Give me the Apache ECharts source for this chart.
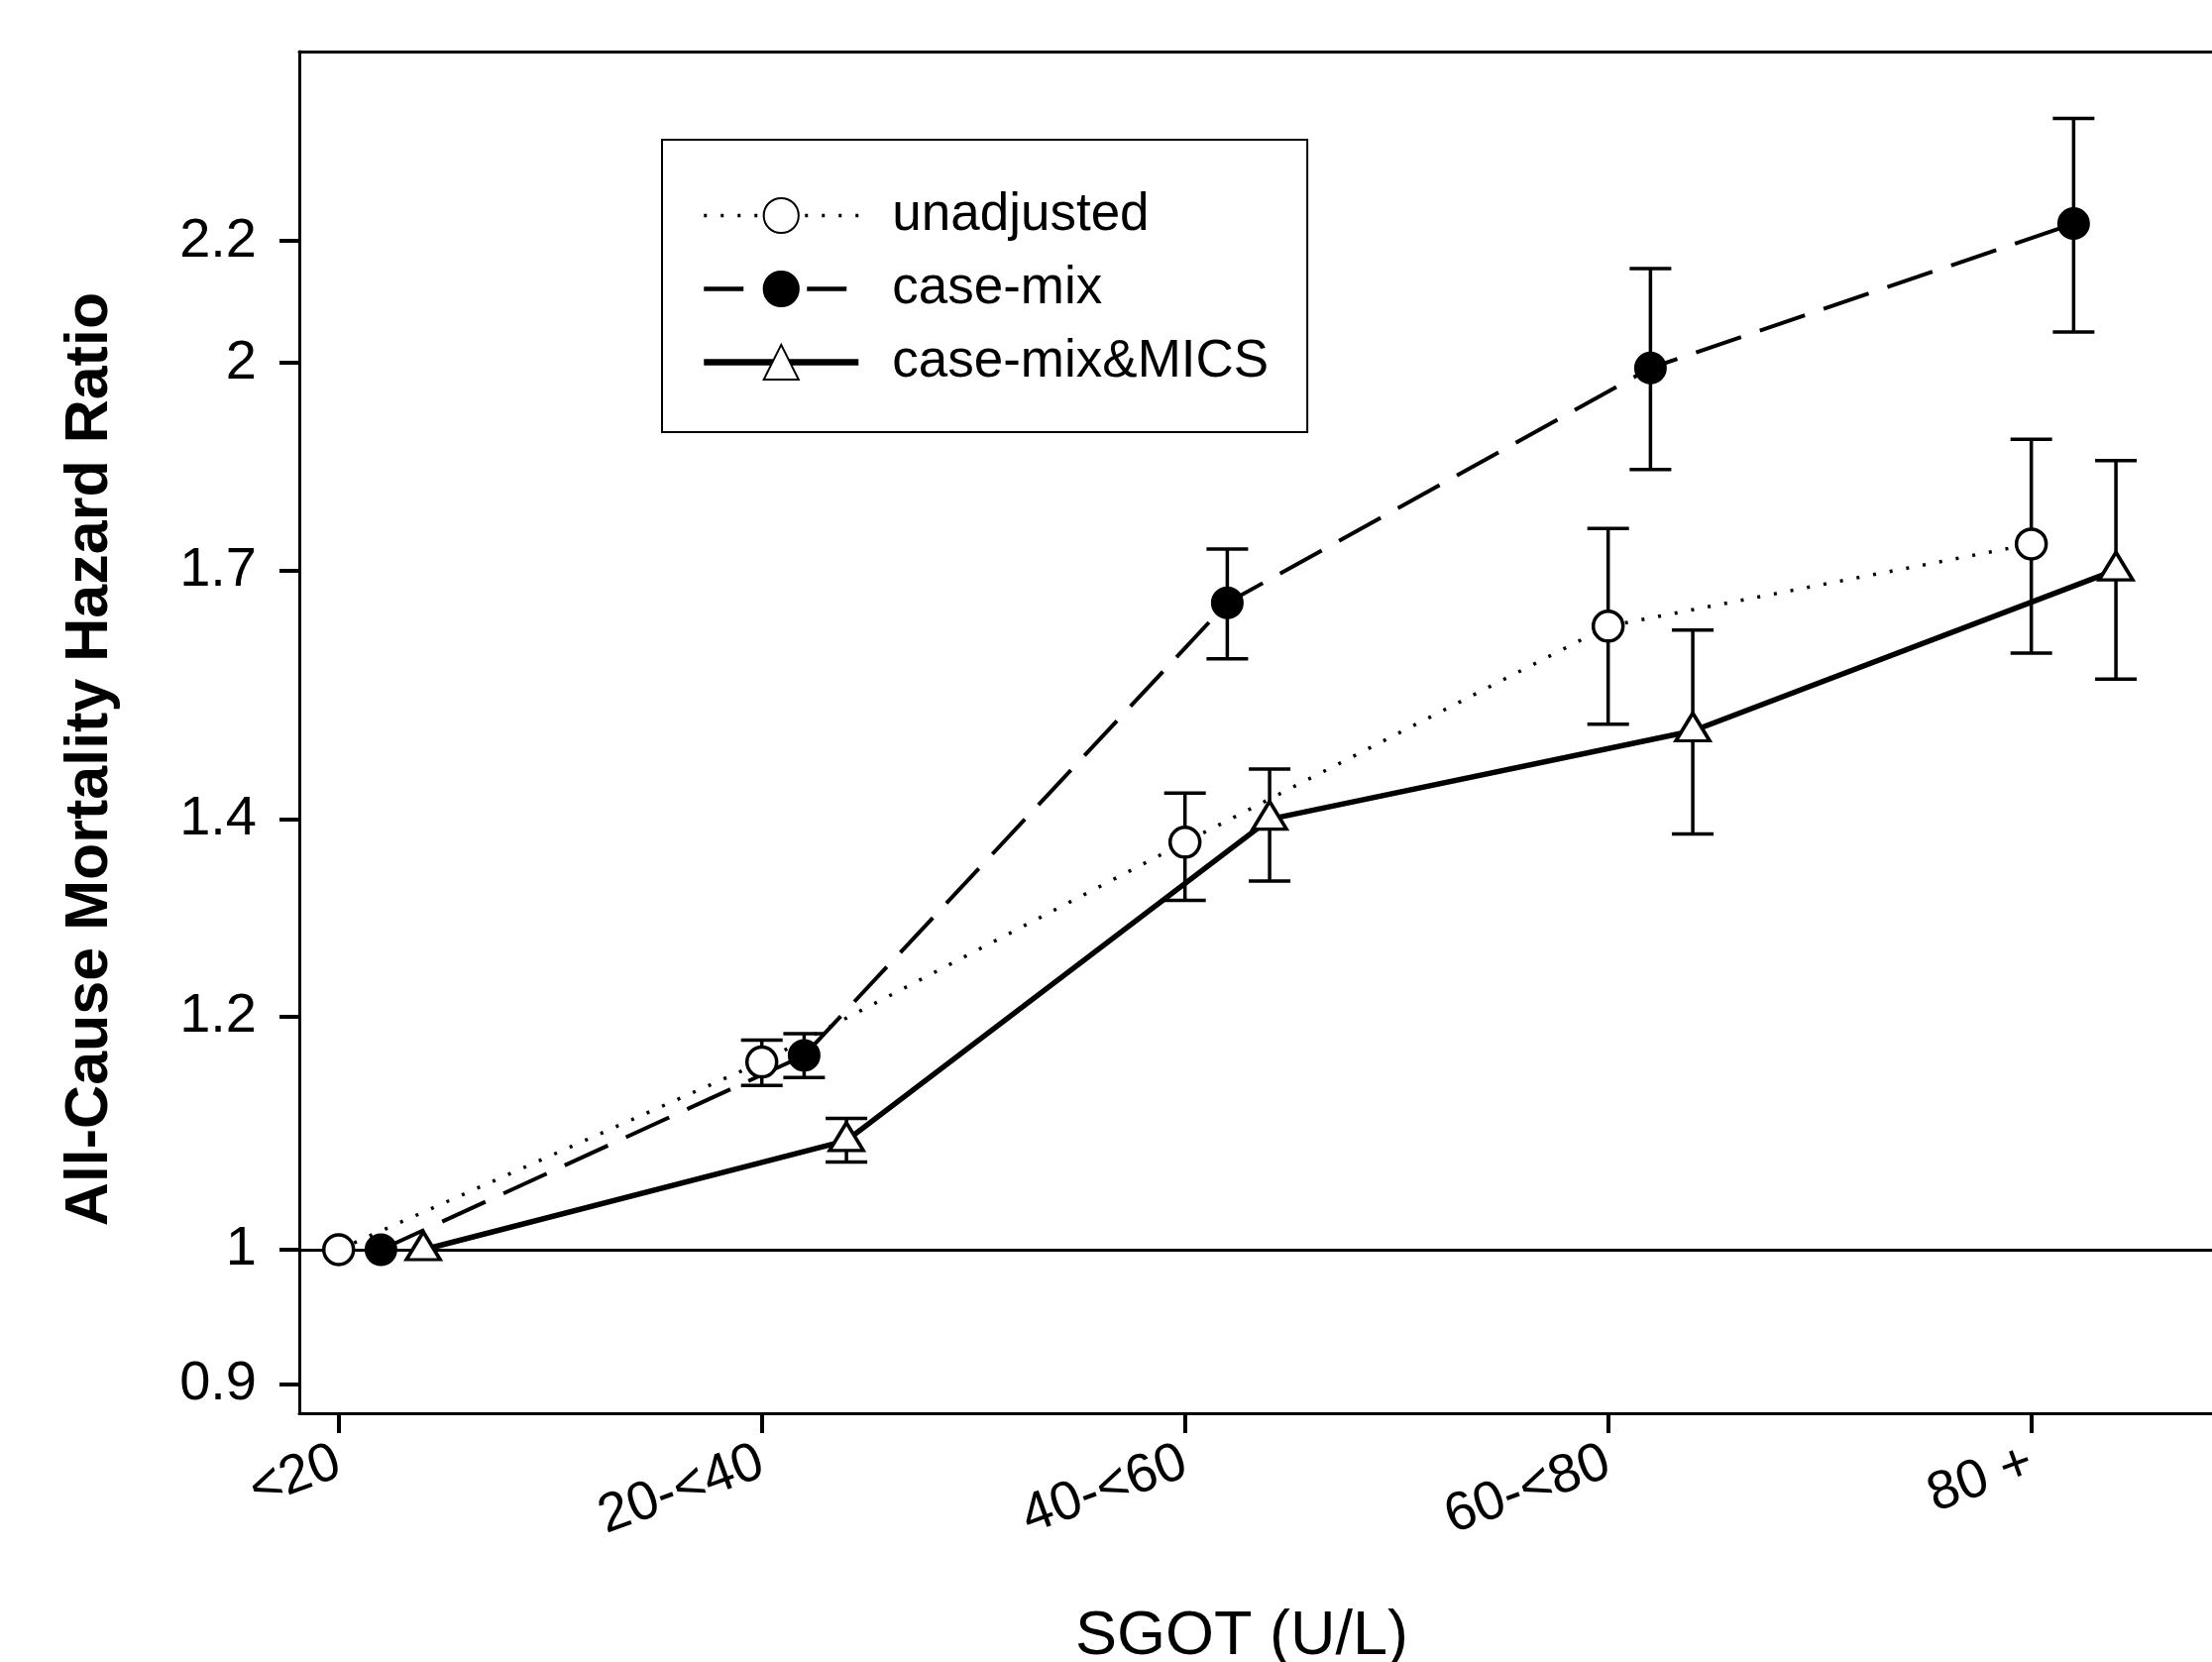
<!DOCTYPE html>
<html>
<head>
<meta charset="utf-8">
<title>SGOT hazard ratio</title>
<script src="https://cdn.jsdelivr.net/npm/echarts@6/dist/echarts.min.js"></script>
<style>
  html, body { margin: 0; padding: 0; background: #fff; }
  #main { width: 2232px; height: 1677px; }
</style>
</head>
<body>
<div id="main"></div>
<script>
// SGOT categories (x axis)
var categories = ['<20', '20-<40', '40-<60', '60-<80', '80 +'];

// hazard ratios and 95% CI
var unadjusted     = [1, 1.158, 1.375, 1.628, 1.736];
var unadjustedLow  = [null, 1.137, 1.314, 1.508, 1.594];
var unadjustedHigh = [null, 1.178, 1.429, 1.757, 1.884];

var caseMix     = [1, 1.164, 1.658, 1.992, 2.230];
var caseMixLow  = [null, 1.144, 1.587, 1.840, 2.049];
var caseMixHigh = [null, 1.184, 1.729, 2.153, 2.421];

var caseMixMics     = [1, 1.089, 1.400, 1.500, 1.701];
var caseMixMicsLow  = [null, 1.071, 1.334, 1.384, 1.562];
var caseMixMicsHigh = [null, 1.108, 1.456, 1.623, 1.853];

var yTicks = [0.9, 1, 1.2, 1.4, 1.7, 2, 2.2];
var xTicks = [0, 1, 2, 3, 4];

// the three series are drawn side by side in each group
var seriesOffset = [0, 0.1, 0.2];

var FONT = 'Liberation Sans';
var X_MIN = -0.093, X_MAX = 4.427;   // plot runs off the right edge

var myChart = echarts.init(document.getElementById('main'));

function points(values, k) {
    return values.map(function (v, i) {
        return [i + seriesOffset[k], v];
    });
}

function bars(low, high, k) {
    var out = [];
    low.forEach(function (v, i) {
        if (v == null) return;
        out.push([i + seriesOffset[k], v, high[i]]);
    });
    return out;
}

// error bar with caps
function errorBar(params, api) {
    var x = api.value(0);
    var lo = api.coord([x, api.value(1)]);
    var hi = api.coord([x, api.value(2)]);
    var half = 21;
    var style = { stroke: '#000', lineWidth: 3.5 };
    return {
        type: 'group',
        children: [
            { type: 'line', shape: { x1: hi[0], y1: hi[1], x2: lo[0], y2: lo[1] }, style: style },
            { type: 'line', shape: { x1: hi[0] - half, y1: hi[1], x2: hi[0] + half, y2: hi[1] }, style: style },
            { type: 'line', shape: { x1: lo[0] - half, y1: lo[1], x2: lo[0] + half, y2: lo[1] }, style: style }
        ]
    };
}

function errorSeries(low, high, k) {
    return {
        type: 'custom',
        renderItem: errorBar,
        data: bars(low, high, k),
        encode: { x: 0, y: [1, 2] },
        z: 1,
        silent: true
    };
}

var option = {
    backgroundColor: '#fff',
    animation: false,
    textStyle: { fontFamily: FONT, color: '#000' },
    grid: {
        left: 302,
        top: 52,
        right: 0,
        bottom: 251,
        outerBoundsMode: 'none'
    },
    legend: {
        orient: 'vertical',
        left: 668,
        top: 141,
        padding: [50, 39, 44, 39],
        itemWidth: 156,
        itemHeight: 44,
        itemGap: 21,
        borderColor: '#000',
        borderWidth: 2,
        selectedMode: false,
        textStyle: {
            fontFamily: FONT,
            fontSize: 53,
            color: '#000',
            padding: [0, 0, 0, 29]
        },
        data: [
            { name: 'unadjusted', lineStyle: { width: 3.5, type: [3, 14], color: '#000' } },
            { name: 'case-mix', lineStyle: { width: 4.5, type: [40, 64], color: '#000' } },
            { name: 'case-mix&MICS', lineStyle: { width: 6.5, type: 'solid', color: '#000' } }
        ]
    },
    xAxis: [{
        type: 'value',
        min: X_MIN,
        max: X_MAX,
        name: 'SGOT (U/L)',
        nameLocation: 'middle',
        nameGap: 194,
        nameTextStyle: { fontFamily: FONT, fontSize: 63, color: '#000', padding: [0, 28, 0, 0] },
        axisLine: { onZero: false, lineStyle: { color: '#000', width: 3 } },
        axisTick: { customValues: xTicks, length: 20, lineStyle: { color: '#000', width: 4 } },
        axisLabel: {
            customValues: xTicks,
            rotate: 20,
            margin: 48,
            fontFamily: FONT,
            fontSize: 55,
            color: '#000',
            formatter: function (v) { return categories[Math.round(v)]; }
        },
        splitLine: { show: false }
    }, {
        // top frame line
        type: 'value',
        position: 'top',
        min: X_MIN,
        max: X_MAX,
        axisLine: { show: true, onZero: false, lineStyle: { color: '#000', width: 3 } },
        axisTick: { show: false },
        axisLabel: { show: false },
        splitLine: { show: false }
    }],
    yAxis: {
        type: 'log',
        min: 0.88,
        max: 2.551,
        name: 'All-Cause Mortality Hazard Ratio',
        nameLocation: 'middle',
        nameGap: 180,
        nameTextStyle: { fontFamily: FONT, fontSize: 61, fontWeight: 'bold', color: '#000', padding: [0, 54, 0, 0] },
        axisLine: { onZero: false, lineStyle: { color: '#000', width: 3 } },
        axisTick: { customValues: yTicks, length: 20, lineStyle: { color: '#000', width: 4 } },
        minorTick: { show: false },
        axisLabel: {
            customValues: yTicks,
            margin: 43,
            fontFamily: FONT,
            fontSize: 56,
            color: '#000',
            formatter: function (v) { return String(+v.toFixed(2)); }
        },
        splitLine: { show: false }
    },
    series: [
        errorSeries(unadjustedLow, unadjustedHigh, 0),
        errorSeries(caseMixLow, caseMixHigh, 1),
        errorSeries(caseMixMicsLow, caseMixMicsHigh, 2),
        {
            name: 'unadjusted',
            type: 'line',
            data: points(unadjusted, 0),
            symbol: 'circle',
            symbolSize: 30,
            lineStyle: { color: '#000', width: 3.5, type: [3, 14] },
            itemStyle: { color: '#fff', borderColor: '#000', borderWidth: 3.5 },
            z: 3
        },
        {
            name: 'case-mix',
            type: 'line',
            data: points(caseMix, 1),
            symbol: 'circle',
            symbolSize: 30,
            lineStyle: { color: '#000', width: 4, type: [48, 20] },
            itemStyle: { color: '#000', borderColor: '#000', borderWidth: 3 },
            z: 3
        },
        {
            name: 'case-mix&MICS',
            type: 'line',
            data: points(caseMixMics, 2),
            symbol: 'triangle',
            symbolSize: [34, 28],
            symbolOffset: [0, -4],
            lineStyle: { color: '#000', width: 5.5 },
            itemStyle: { color: '#fff', borderColor: '#000', borderWidth: 3.5 },
            z: 3,
            markLine: {
                silent: true,
                symbol: ['none', 'none'],
                label: { show: false },
                lineStyle: { color: '#000', width: 3, type: 'solid' },
                data: [{ yAxis: 1 }],
                z: 2
            }
        }
    ]
};

myChart.setOption(option);
</script>
</body>
</html>
